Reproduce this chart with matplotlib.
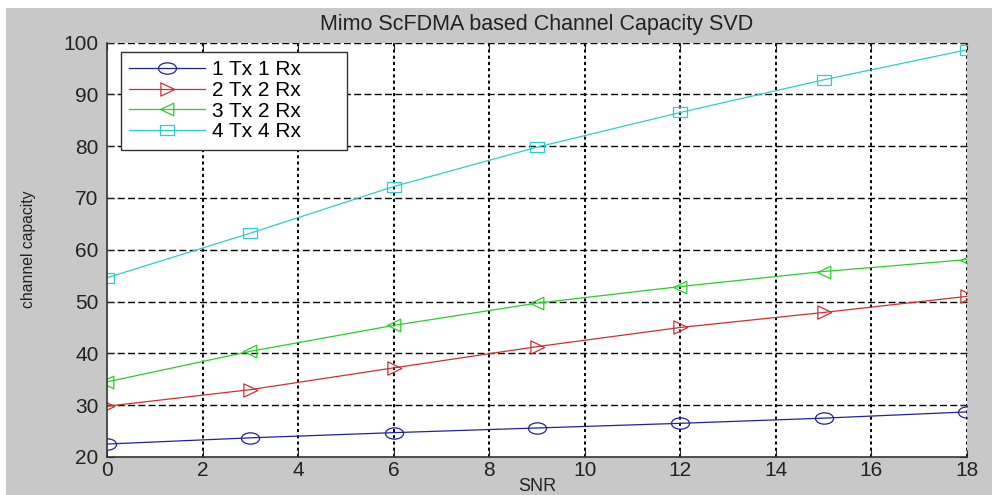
import numpy as np
import matplotlib
matplotlib.use('Agg')
import matplotlib.pyplot as plt
from matplotlib.path import Path
from matplotlib.patches import Rectangle

plt.rcParams['font.family'] = ['Liberation Sans', 'DejaVu Sans']

# datos
snr = [0, 3, 6, 9, 12, 15, 18]
cap_1x1 = [22.5, 23.7, 24.7, 25.6, 26.5, 27.5, 28.7]
cap_2x2 = [29.8, 33.0, 37.2, 41.3, 45.0, 47.9, 51.0]
cap_3x2 = [34.5, 40.4, 45.4, 49.7, 52.9, 55.8, 58.1]
cap_4x4 = [54.6, 63.2, 72.2, 79.8, 86.5, 92.8, 98.6]
etiquetas = ['1 Tx 1 Rx', '2 Tx 2 Rx', '3 Tx 2 Rx', '4 Tx 4 Rx']


# marcadores un poco estirados en horizontal como en la imagen original
def estirar(path, sx):
    v = path.vertices.copy()
    v[:, 0] *= sx
    return Path(v, path.codes)


circulo = estirar(Path.unit_circle(), 1.6)
cuadrado = Path([[-1.3, -1], [1.3, -1], [1.3, 1], [-1.3, 1], [-1.3, -1]], closed=True)
tri_der = Path([[-1, 1], [-1, -1], [1.1, 0], [-1, 1]], closed=True)
tri_izq = Path([[1, 1], [1, -1], [-1.1, 0], [1, 1]], closed=True)

fig = plt.figure(figsize=(9.92, 4.95), dpi=100, facecolor='white')
fig.patches.append(Rectangle((6 / 992, 0), 1, 1 - 8 / 495, transform=fig.transFigure,
                             facecolor='#c8c8c8', edgecolor='none', zorder=-10))
ax = fig.add_axes([107 / 992, 1 - 457 / 495, 860 / 992, 414.5 / 495])
ax.set_facecolor('white')

series = [cap_1x1, cap_2x2, cap_3x2, cap_4x4]
colores = ['#22229a', '#cc3030', '#2ccc2c', '#30cccc']
marcas = [circulo, tri_der, tri_izq, cuadrado]
tamanos = [13, 10.5, 10, 10]
for y, c, m, s, lab in zip(series, colores, marcas, tamanos, etiquetas):
    ax.plot(snr, y, color=c, lw=0.9, marker=m, markersize=s,
            markerfacecolor='none', markeredgecolor=c, markeredgewidth=0.9, label=lab)

ax.set_xlim(0, 18)
ax.set_ylim(20, 100)
ax.set_xticks(np.arange(0, 19, 2))
ax.set_yticks(np.arange(20, 101, 10))

# rejilla estilo matlab
for yy in np.arange(30, 101, 10):
    ax.axhline(yy, color='black', lw=1.0, linestyle=(0, (5, 2.4)), zorder=0.5)
for xx in np.arange(2, 19, 2):
    ax.axvline(xx, color='black', lw=1.4, linestyle=(0, (1.6, 1.6)), zorder=0.5)

ax.tick_params(direction='in', length=5, top=True, right=True, labelsize=15,
               colors='#222222', width=0.8)
ax.tick_params(axis='x', pad=3)
ax.tick_params(axis='y', pad=6)
for sp in ['left', 'bottom']:
    ax.spines[sp].set_color('#333333')
    ax.spines[sp].set_linewidth(1.2)
for sp in ['top', 'right']:
    ax.spines[sp].set_visible(False)

ax.set_title('Mimo ScFDMA based Channel Capacity SVD', fontsize=15.5, color='#222222', pad=9)
ax.set_xlabel('SNR', fontsize=13, color='#222222')
ax.xaxis.set_label_coords(0.5, -0.05)
ax.set_ylabel('channel capacity', fontsize=11.3, color='#222222', labelpad=20)

leg = ax.legend(loc='upper left', bbox_to_anchor=(0.0163, 0.5, 0.2628, 0.477), mode='expand',
                borderaxespad=0, fontsize=15, handlelength=3.65, handletextpad=0.3,
                labelspacing=0.08, borderpad=0.4, fancybox=False, framealpha=1,
                edgecolor='#333333')
leg.get_frame().set_linewidth(1.0)

plt.savefig('out.png', dpi=100, facecolor=fig.get_facecolor())
